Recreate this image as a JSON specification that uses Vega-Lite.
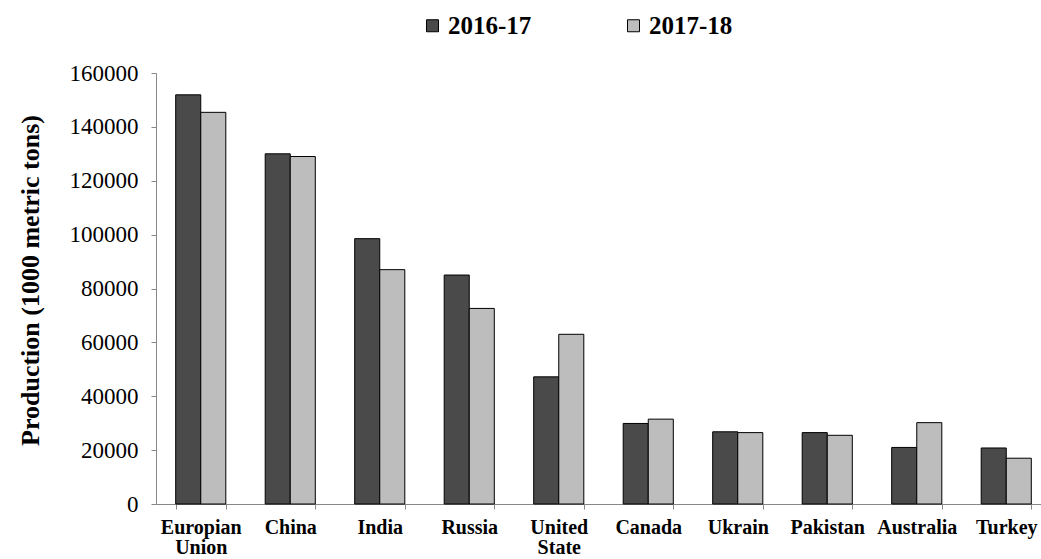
{
  "$schema": "https://vega.github.io/schema/vega-lite/v6.json",
  "autosize": "none",
  "width": 885,
  "height": 431,
  "padding": {"left": 156, "top": 73, "right": 0, "bottom": 55},
  "background": "white",
  "config": {
    "view": {"stroke": null},
    "font": "Times New Roman",
    "axis": {"labelFont": "Times New Roman", "titleFont": "Times New Roman", "labelColor": "black", "titleColor": "black"},
    "legend": {"labelFont": "Times New Roman"}
  },
  "data": {
    "values": [
      {"country": "Europian Union", "year": "2016-17", "production": 151900},
      {"country": "Europian Union", "year": "2017-18", "production": 145400},
      {"country": "China", "year": "2016-17", "production": 130000},
      {"country": "China", "year": "2017-18", "production": 129000},
      {"country": "India", "year": "2016-17", "production": 98500},
      {"country": "India", "year": "2017-18", "production": 87000},
      {"country": "Russia", "year": "2016-17", "production": 85000},
      {"country": "Russia", "year": "2017-18", "production": 72600},
      {"country": "United State", "year": "2016-17", "production": 47200},
      {"country": "United State", "year": "2017-18", "production": 63000},
      {"country": "Canada", "year": "2016-17", "production": 29900},
      {"country": "Canada", "year": "2017-18", "production": 31500},
      {"country": "Ukrain", "year": "2016-17", "production": 26800},
      {"country": "Ukrain", "year": "2017-18", "production": 26500},
      {"country": "Pakistan", "year": "2016-17", "production": 26500},
      {"country": "Pakistan", "year": "2017-18", "production": 25500},
      {"country": "Australia", "year": "2016-17", "production": 21000},
      {"country": "Australia", "year": "2017-18", "production": 30200},
      {"country": "Turkey", "year": "2016-17", "production": 20800},
      {"country": "Turkey", "year": "2017-18", "production": 17000}
    ]
  },
  "mark": {"type": "bar", "stroke": "black", "strokeWidth": 1},
  "encoding": {
    "x": {
      "field": "country",
      "type": "nominal",
      "sort": null,
      "scale": {"range": [0, 895], "paddingInner": 0.44, "paddingOuter": 0.22},
      "axis": {
        "title": null,
        "labelAngle": 0,
        "labelFontWeight": "bold",
        "labelFontSize": 20,
        "labelExpr": "split(datum.label, ' ')",
        "labelLineHeight": 20,
        "labelPadding": 8,
        "tickBand": "extent",
        "tickSize": 5,
        "tickColor": "#888888",
        "domainColor": "#888888",
        "labelLimit": 200
      }
    },
    "xOffset": {"field": "year", "type": "nominal"},
    "y": {
      "field": "production",
      "type": "quantitative",
      "scale": {"domain": [0, 160000], "nice": false},
      "axis": {
        "title": "Production (1000 metric tons)",
        "titleFontSize": 26,
        "titleFontWeight": "bold",
        "titlePadding": 26,
        "titleY": 207,
        "values": [0, 20000, 40000, 60000, 80000, 100000, 120000, 140000, 160000],
        "format": "d",
        "labelFontSize": 23,
        "labelPadding": 13,
        "tickSize": 5,
        "tickColor": "#888888",
        "domainColor": "#888888",
        "grid": false
      }
    },
    "fill": {
      "field": "year",
      "type": "nominal",
      "scale": {"domain": ["2016-17", "2017-18"], "range": ["#4a4a4a", "#bdbdbd"]},
      "legend": {
        "title": null,
        "orient": "none",
        "legendX": 264,
        "legendY": -60,
        "direction": "horizontal",
        "columns": 2,
        "columnPadding": 89,
        "symbolType": "square",
        "symbolSize": 144,
        "symbolStrokeColor": "black",
        "symbolStrokeWidth": 1,
        "labelFontSize": 25,
        "labelFontWeight": "bold",
        "labelOffset": 3
      }
    }
  }
}
